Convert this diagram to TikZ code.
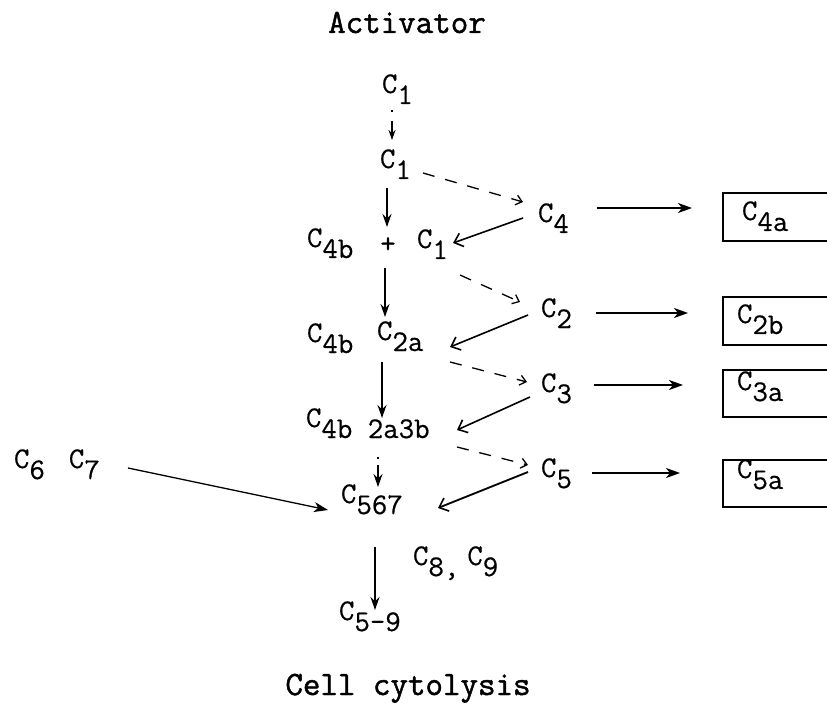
\documentclass[tikz,border=0pt]{standalone}
\usepackage{fontspec}
\newfontfamily\twfont{Latin Modern Mono}[FakeBold=0.5]
\newfontfamily\twfontb{Latin Modern Mono}[FakeBold=1.4]
\usetikzlibrary{arrows.meta,calc}
\newcommand\lowr[1]{\raisebox{-11pt}{#1}}
\begin{document}
\begin{tikzpicture}[x=1pt,y=-1pt,
  every node/.style={inner sep=0pt,outer sep=0pt,font=\twfont\fontsize{30}{36}\selectfont},
  cn/.style={anchor=base west},
  title/.style={anchor=base,font=\twfontb\fontsize{34}{40}\selectfont},
  bx/.style={anchor=north west,minimum width=106pt,minimum height=48pt},
  vconn/.style={line width=1.7pt,-{Stealth[length=13pt,width=9pt]}},
  veeconn/.style={line width=1.6pt,-{Straight Barb[length=8pt,width=14pt,line width=1.6pt]}},
  dashconn/.style={line width=1.3pt,dash pattern=on 12pt off 11pt,-{Straight Barb[length=6pt,width=10pt,line width=1.3pt]}},
  hconn/.style={line width=2pt,-{Stealth[length=14pt,width=10pt,inset=4pt]}},
  boxside/.style={line width=2pt}]
\useasboundingbox (0,0) rectangle (827,703);

% titles
\node[title] (act) at (407,33) {Activator};
\node[title] (cyt) at (408,695) {Cell cytolysis};

% main column
\node[cn] (c1a) at (382,93) {C\lowr{1}};
\node[cn] (c1b) at (380,168) {C\lowr{1}};
\node[cn] (c4b1) at (307,247) {C\lowr{4b}};
\node (plus) at (388,245) {+};
\node[cn] (c1c) at (417,248) {C\lowr{1}};
\node[cn] (c4b2) at (307,342) {C\lowr{4b}};
\node[cn] (c2a) at (377,340) {C\lowr{2a}};
\node[cn] (c4b3) at (306,427) {C\lowr{4b 2a3b}};
\node[cn] (c567) at (341,503) {C\lowr{567}};
\node[cn] (c67) at (14,468) {C\lowr{6}\hspace{24pt}C\lowr{7}};
\node[cn] (c89) at (413,565) {C\lowr{8,}\hspace{8pt}C\lowr{9}};
\node[cn] (c59) at (339,620) {C\lowr{5-9}};

% right column
\node[cn] (c4) at (538,222) {C\lowr{4}};
\node[cn] (c2) at (541,317) {C\lowr{2}};
\node[cn] (c3) at (541,392) {C\lowr{3}};
\node[cn] (c5) at (541,477) {C\lowr{5}};

% boxes
\node[bx] (b4a) at (723,193) {};
\node[bx] (b2b) at (723,297) {};
\node[bx,minimum height=47pt] (b3a) at (723,370) {};
\node[bx,minimum height=47pt] (b5a) at (723,460) {};
\node[cn] (c4a) at (742,220) {C\lowr{4a}};
\node[cn] (c2b) at (737,323) {C\lowr{2b}};
\node[cn] (c3a) at (737,390) {C\lowr{3a}};
\node[cn] (c5a) at (737,478) {C\lowr{5a}};
\foreach \b in {b4a,b2b,b3a,b5a}
  \draw[boxside] ($(\b.north east)+(2,0)$) -- (\b.north west) -- (\b.south west) -- ($(\b.south east)+(2,0)$);

% vertical connectors
\draw[vconn,line width=1.3pt,dash pattern=on 2pt off 9pt on 40pt,-{Stealth[length=10pt,width=7pt]}]
  ($(c1a.base west)+(10,17)$) -- ($(c1b.base west)+(12,-28)$);
\draw[vconn] ($(c1b.base west)+(7,20)$) -- ($(plus.center)+(-1,-18)$);
\draw[vconn] ($(plus.center)+(-3,23)$) -- ($(c2a.base west)+(8,-23)$);
\draw[vconn] ($(c2a.base west)+(5,22)$) -- ($(c4b3.base west)+(76,-9)$);
\draw[vconn,dash pattern=on 1.5pt off 6pt on 40pt]
  ($(c4b3.base west)+(72,30)$) -- ($(c567.base west)+(37,-16)$);
\draw[vconn] ($(c567.base west)+(34,44)$) -- ($(c59.base west)+(36,-10)$);

% dashed zig-zag
\draw[dashconn] ($(c1b.base west)+(43,5)$) -- ($(c4.base west)+(-15,-20)$);
\draw[dashconn] ($(c1c.base west)+(43,27)$) -- ($(c2.base west)+(-21,-15)$);
\draw[dashconn] ($(c2a.base west)+(73,22)$) -- ($(c3.base west)+(-14,-10)$);
\draw[dashconn] ($(c4b3.base west)+(151,20)$) -- ($(c5.base west)+(-13,-12)$);

% return arrows
\draw[veeconn] ($(c4.base west)+(-15,-4)$) -- ($(c1c.base west)+(36,-5)$);
\draw[veeconn] ($(c2.base west)+(-13,-2)$) -- ($(c2a.base west)+(73,7)$);
\draw[veeconn] ($(c3.base west)+(-11,5)$) -- ($(c4b3.base west)+(151,3)$);
\draw[veeconn,line width=1.8pt] ($(c5.base west)+(-13,-5)$) -- ($(c567.base west)+(97,5)$);

% C6 C7 arrow
\draw[line width=1.3pt,-{Stealth[length=14pt,width=10pt,inset=4pt]}]
  ($(c67.base west)+(114,0)$) -- ($(c567.base west)+(-13,7)$);

% horizontal arrows to boxes
\draw[hconn] ($(c4.base west)+(59,-14)$) -- ($(b4a.north west)+(-31,15)$);
\draw[hconn] ($(c2.base west)+(55,-4)$) -- ($(b2b.north west)+(-35,16)$);
\draw[hconn] ($(c3.base west)+(53,-7)$) -- ($(b3a.north west)+(-40,15)$);
\draw[hconn] ($(c5.base west)+(51,-4)$) -- ($(b5a.north west)+(-43,13)$);
\end{tikzpicture}
\end{document}
